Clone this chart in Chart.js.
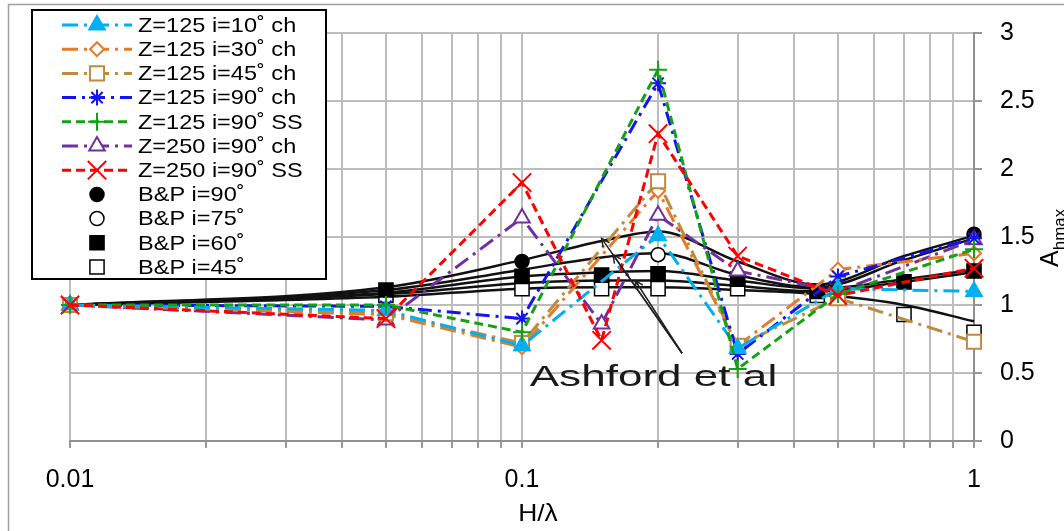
<!DOCTYPE html>
<html>
<head>
<meta charset="utf-8">
<script src="https://cdn.jsdelivr.net/npm/chart.js@4.4.1/dist/chart.umd.min.js"></script>
<style>
  html, body { margin: 0; padding: 0; background: #fff; }
</style>
</head>
<body>
<canvas id="ahChart" width="1064" height="531"></canvas>
<script>
// H/lambda positions of the model runs
const hlA = [0.01, 0.05, 0.1, 0.2, 0.3, 0.5, 1];
const hlB = [0.01, 0.05, 0.1, 0.15, 0.2, 0.3, 0.5, 1];

// A_hmax, model runs
const z125i10ch = [1.0, 0.96, 0.70, 1.51, 0.68, 1.12, 1.10];
const z125i30ch = [1.0, 0.93, 0.69, 1.84, 0.70, 1.26, 1.38];
const z125i45ch = [1.0, 0.94, 0.72, 1.91, 0.70, 1.05, 0.73];
const z125i90ch = [1.0, 0.99, 0.90, 2.63, 0.64, 1.21, 1.49];
const z125i90ss = [1.0, 1.0, 0.80, 2.73, 0.53, 1.08, 1.41];
const z250i90ch = [1.0, 0.89, 1.64, 0.86, 1.66, 1.25, 1.10, 1.48];
const z250i90ss = [1.0, 0.90, 1.90, 0.74, 2.26, 1.36, 1.07, 1.27];

// Ashford et al curves
const ashX = [0.01, 0.05, 0.1, 0.15, 0.2, 0.3, 0.45, 0.7, 1];
const ash1 = [1.0, 1.13, 1.33, 1.47, 1.54, 1.32, 1.15, 1.36, 1.51];
const ash2 = [1.0, 1.11, 1.26, 1.35, 1.38, 1.22, 1.13, 1.33, 1.49];
const ash3 = [1.0, 1.09, 1.21, 1.24, 1.25, 1.18, 1.12, 1.19, 1.26];
const ash4 = [1.0, 1.08, 1.16, 1.18, 1.18, 1.14, 1.10, 1.17, 1.24];
const ash5 = [1.0, 1.06, 1.12, 1.13, 1.13, 1.11, 1.08, 1.00, 0.88];

// B&P points
const bp90X = [0.1, 1];
const bp90Y = [1.32, 1.52];
const bp75X = [0.2];
const bp75Y = [1.37];
const bp60X = [0.05, 0.1, 0.15, 0.2, 0.3, 0.45, 0.7, 1];
const bp60Y = [1.11, 1.21, 1.22, 1.23, 1.19, 1.10, 1.17, 1.25];
const bp45X = [0.05, 0.1, 0.15, 0.2, 0.3, 0.45, 0.7, 1];
const bp45Y = [1.07, 1.12, 1.12, 1.12, 1.12, 1.07, 0.93, 0.80];

// annotation "Ashford et al" (data coords)
const ashLabel = [0.104, 0.405];
const ashTail = [0.226, 0.645];
const ashHeads = [[0.150, 1.49], [0.159, 1.37], [0.178, 1.18]];

// axis ticks
const xTicks = [0.01, 0.02, 0.03, 0.04, 0.05, 0.06, 0.07, 0.08, 0.09,
                0.1, 0.2, 0.3, 0.4, 0.5, 0.6, 0.7, 0.8, 0.9, 1];
const xTickLabels = [0.01, 0.1, 1];
const yTicks = [0, 0.5, 1, 1.5, 2, 2.5, 3];

const FONT = "'Liberation Sans', Arial, sans-serif";
Chart.defaults.font.family = FONT;

const pts = (xs, ys) => xs.map((x, i) => ({ x: x, y: ys[i] }));

function series(label, xs, ys, color, dash, style, r, fill, order) {
  return {
    label: label,
    data: pts(xs, ys),
    borderColor: color,
    backgroundColor: color,
    borderWidth: 3,
    borderDash: dash,
    pointStyle: style,
    pointRadius: r,
    pointHoverRadius: r,
    pointBackgroundColor: fill,
    pointBorderColor: color,
    pointBorderWidth: 2,
    tension: 0,
    clip: false,
    order: order,
    inLegend: true
  };
}

function bp(label, xs, ys, style, r, fill) {
  return {
    label: label,
    data: pts(xs, ys),
    showLine: false,
    pointStyle: style,
    pointRadius: r,
    pointHoverRadius: r,
    pointBackgroundColor: fill,
    pointBorderColor: '#000',
    pointBorderWidth: 1.5,
    clip: false,
    order: 10,
    inLegend: true
  };
}

function ash(ys) {
  return {
    label: '',
    data: pts(ashX, ys),
    borderColor: '#111',
    borderWidth: 2.5,
    pointRadius: 0,
    cubicInterpolationMode: 'monotone',
    clip: false,
    order: 20
  };
}

const dashDot = [16, 6, 3, 6];
const dashed = [9, 5];

const datasets = [
  series('Z=125 i=10\u02DA ch', hlA, z125i10ch, '#00B0F0', dashDot, 'triangle', 9, '#00B0F0', 3),
  series('Z=125 i=30\u02DA ch', hlA, z125i30ch, '#E8782A', dashDot, 'rectRot', 7, '#fff', 6),
  series('Z=125 i=45\u02DA ch', hlA, z125i45ch, '#BF8B3E', dashDot, 'rect', 10, '#fff', 5),
  series('Z=125 i=90\u02DA ch', hlA, z125i90ch, '#1414F0', [14, 6, 3, 6], 'star', 8, '#1414F0', 4),
  series('Z=125 i=90\u02DA SS', hlA, z125i90ss, '#16A016', dashed, 'cross', 9, '#16A016', 2),
  series('Z=250 i=90\u02DA ch', hlB, z250i90ch, '#7030A0', dashDot, 'triangle', 9, '#fff', 7),
  series('Z=250 i=90\u02DA SS', hlB, z250i90ss, '#FF0000', dashed, 'crossRot', 13, '#FF0000', 1),
  bp('B&P i=90\u02DA', bp90X, bp90Y, 'circle', 7, '#000'),
  bp('B&P i=75\u02DA', bp75X, bp75Y, 'circle', 7, '#fff'),
  bp('B&P i=60\u02DA', bp60X, bp60Y, 'rect', 10, '#000'),
  bp('B&P i=45\u02DA', bp45X, bp45Y, 'rect', 10, '#fff'),
  ash(ash1), ash(ash2), ash(ash3), ash(ash4), ash(ash5)
];

function sText(c, s, x, y, sx) {
  c.save();
  c.translate(x, y);
  c.scale(sx, 1);
  c.fillText(s, 0, 0);
  c.restore();
}

function mark(c, ds, x, y) {
  c.save();
  c.setLineDash([]);
  c.fillStyle = ds.pointBackgroundColor;
  c.strokeStyle = ds.pointBorderColor;
  c.lineWidth = ds.pointBorderWidth;
  Chart.helpers.drawPoint(c, {
    pointStyle: ds.pointStyle, radius: ds.pointRadius,
    borderWidth: ds.pointBorderWidth, rotation: 0
  }, x, y);
  c.restore();
}

const frame = {
  id: 'frame',
  beforeDraw(chart) {
    const c = chart.ctx;
    c.save();
    c.fillStyle = '#fff';
    c.fillRect(0, 0, chart.width, chart.height);
    c.strokeStyle = '#a0a0a0';
    c.lineWidth = 1.5;
    c.strokeRect(8.5, 4.5, chart.width + 10, chart.height + 10);
    c.restore();
  }
};

// Ashford et al label + arrows
const ashNote = {
  id: 'ashNote',
  afterDatasetsDraw(chart) {
    const c = chart.ctx, xs = chart.scales.x, ys = chart.scales.y;
    const tx = xs.getPixelForValue(ashTail[0]), ty = ys.getPixelForValue(ashTail[1]);
    c.save();
    c.strokeStyle = '#222';
    c.lineWidth = 1.5;
    ashHeads.forEach(h => {
      const hx = xs.getPixelForValue(h[0]), hy = ys.getPixelForValue(h[1]);
      const ang = Math.atan2(hy - ty, hx - tx);
      c.beginPath();
      c.moveTo(tx, ty);
      c.lineTo(hx, hy);
      c.moveTo(hx - 9 * Math.cos(ang - 0.45), hy - 9 * Math.sin(ang - 0.45));
      c.lineTo(hx, hy);
      c.lineTo(hx - 9 * Math.cos(ang + 0.45), hy - 9 * Math.sin(ang + 0.45));
      c.stroke();
    });
    c.fillStyle = '#1a1a1a';
    c.font = '29px ' + FONT;
    c.textAlign = 'left';
    c.textBaseline = 'alphabetic';
    sText(c, 'Ashford et al', xs.getPixelForValue(ashLabel[0]), ys.getPixelForValue(ashLabel[1]), 1.52);
    c.restore();
  }
};

const titlesAndLegend = {
  id: 'titlesAndLegend',
  afterDraw(chart) {
    const c = chart.ctx, a = chart.chartArea;
    c.save();
    c.fillStyle = '#000';
    // x title
    c.font = '24px ' + FONT;
    c.textAlign = 'center';
    c.textBaseline = 'alphabetic';
    sText(c, 'H/\u03BB', (a.left + a.right) / 2 + 16, a.bottom + 80, 1.1);
    // y title, rotated, with subscript
    c.save();
    c.translate(a.right + 84, (a.top + a.bottom) / 2 + 30);
    c.rotate(-Math.PI / 2);
    c.textAlign = 'left';
    c.font = '25px ' + FONT;
    c.fillText('A', 0, 0);
    const wA = c.measureText('A').width;
    c.font = '17px ' + FONT;
    c.fillText('hmax', wA, 7);
    c.restore();

    // legend box
    const L = 32, T = 10, W = 294, H = 269;
    c.fillStyle = '#fff';
    c.fillRect(L, T, W, H);
    c.strokeStyle = '#000';
    c.lineWidth = 2;
    c.strokeRect(L, T, W, H);
    const rows = chart.data.datasets.filter(d => d.inLegend);
    rows.forEach((ds, i) => {
      const y = T + 15 + i * 24.2;
      if (ds.showLine !== false) {
        c.save();
        c.strokeStyle = ds.borderColor;
        c.lineWidth = ds.borderWidth;
        c.setLineDash(ds.borderDash);
        c.beginPath();
        c.moveTo(L + 30, y);
        c.lineTo(L + 100, y);
        c.stroke();
        c.restore();
      }
      mark(c, ds, L + 65, y);
      c.fillStyle = '#000';
      c.font = '21px ' + FONT;
      c.textAlign = 'left';
      c.textBaseline = 'middle';
      sText(c, ds.label, L + 106, y + 1, 1.12);
    });
    c.restore();
  }
};

new Chart(document.getElementById('ahChart').getContext('2d'), {
  type: 'line',
  data: { datasets: datasets },
  options: {
    responsive: false,
    animation: false,
    layout: { padding: { left: 70, top: 27, right: 0, bottom: 0 } },
    plugins: { legend: { display: false }, tooltip: { enabled: false } },
    scales: {
      x: {
        type: 'logarithmic',
        min: 0.01,
        max: 1,
        afterBuildTicks: s => { s.ticks = xTicks.map(v => ({ value: v })); },
        afterFit: s => { s.height = 90; },
        ticks: {
          autoSkip: false,
          maxRotation: 0,
          color: '#000',
          font: { size: 25 },
          padding: 17,
          callback: v => xTickLabels.includes(v) ? String(v) : ''
        },
        grid: { color: '#bdbdbd', lineWidth: 2, tickLength: 7, tickColor: '#999' },
        border: { color: '#909090', width: 2 }
      },
      y: {
        position: 'right',
        min: 0,
        max: 3,
        afterBuildTicks: s => { s.ticks = yTicks.map(v => ({ value: v })); },
        afterFit: s => { s.width = 90; },
        ticks: {
          color: '#000',
          font: { size: 25 },
          padding: 18,
          callback: v => String(v)
        },
        grid: { color: '#bdbdbd', lineWidth: 2, tickLength: 8, tickColor: '#999' },
        border: { color: '#909090', width: 2 }
      }
    }
  },
  plugins: [frame, ashNote, titlesAndLegend]
});
</script>
</body>
</html>
